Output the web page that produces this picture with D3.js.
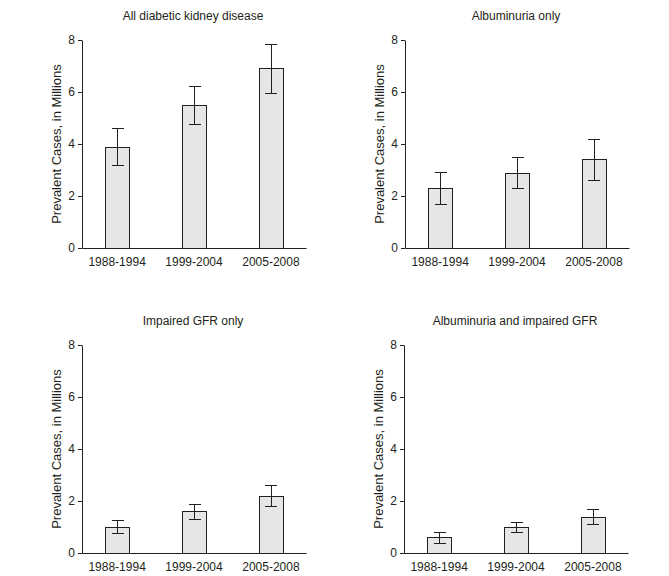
<!DOCTYPE html>
<html>
<head>
<meta charset="utf-8">
<script src="https://cdn.jsdelivr.net/npm/d3@7/dist/d3.min.js"></script>
<style>
  html, body { margin: 0; padding: 0; background: #fff; }
  svg text { font-family: "Liberation Sans", Arial, Helvetica, sans-serif; fill: #231f20; }
</style>
</head>
<body>
<svg id="chart" width="669" height="576"></svg>
<script>
const categories = ["1988-1994", "1999-2004", "2005-2008"];
const panelTitles = ["All diabetic kidney disease", "Albuminuria only", "Impaired GFR only", "Albuminuria and impaired GFR"];
const yTicks = [0, 2, 4, 6, 8];
const yLabel = "Prevalent Cases, in Millions";

const allDKD      = [3.9, 5.5, 6.92];
const allDKDLow   = [3.2, 4.77, 5.97];
const allDKDHigh  = [4.6, 6.25, 7.85];

const albOnly     = [2.31, 2.88, 3.42];
const albOnlyLow  = [1.7, 2.3, 2.61];
const albOnlyHigh = [2.91, 3.5, 4.2];

const gfrOnly     = [1.0, 1.62, 2.19];
const gfrOnlyLow  = [0.77, 1.31, 1.79];
const gfrOnlyHigh = [1.27, 1.88, 2.62];

const both        = [0.62, 1.0, 1.38];
const bothLow     = [0.38, 0.81, 1.1];
const bothHigh    = [0.81, 1.19, 1.69];

const panels = [
  { title: panelTitles[0], v: allDKD,  lo: allDKDLow,  hi: allDKDHigh },
  { title: panelTitles[1], v: albOnly, lo: albOnlyLow, hi: albOnlyHigh },
  { title: panelTitles[2], v: gfrOnly, lo: gfrOnlyLow, hi: gfrOnlyHigh },
  { title: panelTitles[3], v: both,    lo: bothLow,    hi: bothHigh }
];

const ink = "#231f20";
const originsX = [82, 405, 82, 404];
const originsY = [248, 248, 553, 553];
const plotW = 224, plotH = 208;

const svg = d3.select("#chart");

panels.forEach((p, i) => {
  const g = svg.append("g").attr("transform", `translate(${originsX[i]},${originsY[i] - plotH})`);
  const x = d3.scaleBand().domain(categories).range([0, plotW]).paddingInner(0.687).paddingOuter(0.3);
  const y = d3.scaleLinear().domain([0, 8]).range([plotH, 0]);

  // bars
  g.selectAll("rect.bar").data(categories).join("rect")
    .attr("class", "bar")
    .attr("x", d => Math.round(x(d)) + 0.5)
    .attr("width", Math.round(x.bandwidth()))
    .attr("y", (d, k) => Math.round(y(p.v[k])) + 0.5)
    .attr("height", (d, k) => plotH - Math.round(y(p.v[k])))
    .attr("fill", "#e6e6e6")
    .attr("stroke", ink)
    .attr("stroke-width", 1);

  // error bars
  const capW = 11;
  const eb = g.selectAll("g.err").data(categories).join("g").attr("class", "err");
  eb.append("line")
    .attr("x1", d => Math.round(x(d) + x.bandwidth() / 2) + 0.5)
    .attr("x2", d => Math.round(x(d) + x.bandwidth() / 2) + 0.5)
    .attr("y1", (d, k) => Math.round(y(p.hi[k])) + 0.5)
    .attr("y2", (d, k) => Math.round(y(p.lo[k])) + 0.5)
    .attr("stroke", ink);
  eb.append("line")
    .attr("x1", d => Math.round(x(d) + x.bandwidth() / 2 - capW / 2))
    .attr("x2", d => Math.round(x(d) + x.bandwidth() / 2 + capW / 2) + 1)
    .attr("y1", (d, k) => Math.round(y(p.hi[k])) + 0.5)
    .attr("y2", (d, k) => Math.round(y(p.hi[k])) + 0.5)
    .attr("stroke", ink);
  eb.append("line")
    .attr("x1", d => Math.round(x(d) + x.bandwidth() / 2 - capW / 2))
    .attr("x2", d => Math.round(x(d) + x.bandwidth() / 2 + capW / 2) + 1)
    .attr("y1", (d, k) => Math.round(y(p.lo[k])) + 0.5)
    .attr("y2", (d, k) => Math.round(y(p.lo[k])) + 0.5)
    .attr("stroke", ink);

  // y axis
  const ya = g.append("g").call(d3.axisLeft(y).tickValues(yTicks).tickFormat(d3.format("d")).tickSizeInner(4).tickSizeOuter(0).tickPadding(3));
  ya.selectAll("text").style("font-size", "12px").attr("fill", ink);
  ya.selectAll("line, path").attr("stroke", ink);

  // x axis
  const xa = g.append("g").attr("transform", `translate(0,${plotH})`)
    .call(d3.axisBottom(x).tickSize(0).tickPadding(9));
  xa.selectAll("text").style("font-size", "12px").attr("fill", ink);
  xa.selectAll("path").attr("stroke", ink);

  // title
  g.append("text")
    .attr("x", plotW / 2 - 1)
    .attr("y", -20.5)
    .attr("text-anchor", "middle")
    .style("font-size", "12px")
    .text(p.title);

  // y label
  g.append("text")
    .attr("transform", `translate(-21,${plotH / 2}) rotate(-90)`)
    .attr("text-anchor", "middle")
    .style("font-size", "13px")
    .text(yLabel);
});
</script>
</body>
</html>
